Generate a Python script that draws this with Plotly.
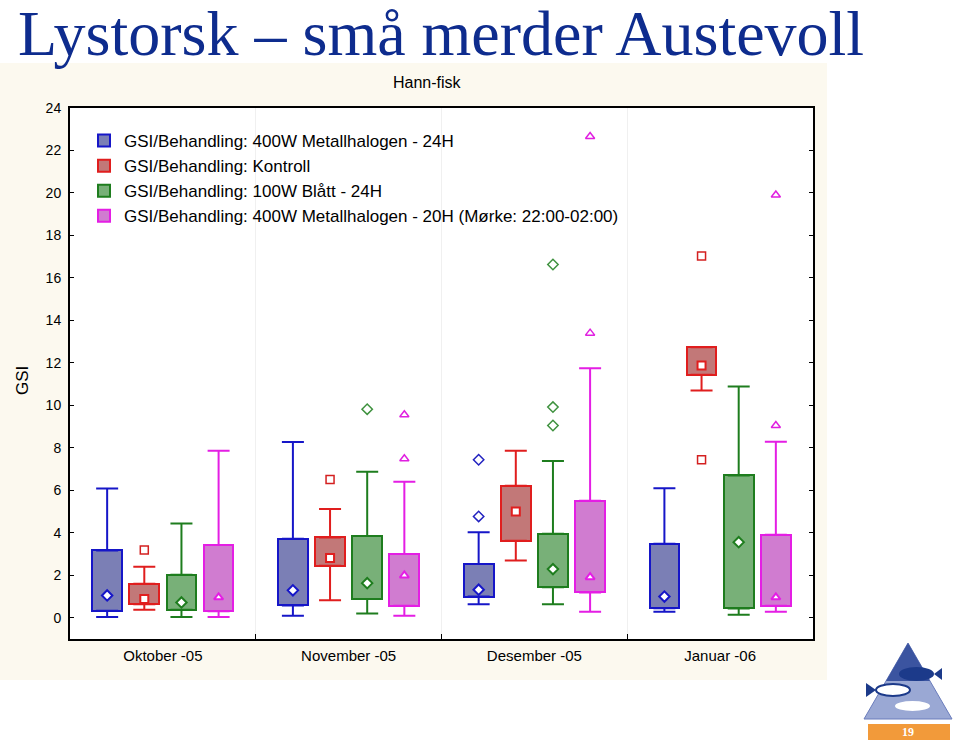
import plotly.graph_objects as go

# ---------------- data ----------------
months = ["Oktober -05", "November -05", "Desember -05", "Januar -06"]
series_names = [
    "GSI/Behandling: 400W Metallhalogen - 24H",
    "GSI/Behandling: Kontroll",
    "GSI/Behandling: 100W Blått - 24H",
    "GSI/Behandling: 400W Metallhalogen - 20H (Mørke: 22:00-02:00)",
]

blue_hi = [6.09, 8.27, 4.03, 6.10]
blue_q3 = [3.17, 3.72, 2.53, 3.48]
blue_med = [1.05, 1.29, 1.32, 1.00]
blue_q1 = [0.33, 0.58, 1.00, 0.45]
blue_lo = [0.03, 0.09, 0.64, 0.28]
blue_out_month = [2, 2]
blue_out_val = [7.44, 4.77]

red_hi = [2.40, 5.12, 7.86, 12.74]
red_q3 = [1.60, 3.78, 6.21, 12.74]
red_med = [0.88, 2.81, 5.00, 11.88]
red_q1 = [0.64, 2.45, 3.63, 11.44]
red_lo = [0.38, 0.82, 2.70, 10.70]
red_out_month = [0, 1, 3, 3]
red_out_val = [3.19, 6.51, 17.03, 7.44]

green_hi = [4.44, 6.87, 7.38, 10.89]
green_q3 = [2.02, 3.85, 3.95, 6.70]
green_med = [0.72, 1.63, 2.29, 3.56]
green_q1 = [0.38, 0.88, 1.44, 0.44]
green_lo = [0.03, 0.20, 0.64, 0.14]
green_out_month = [1, 2, 2, 2]
green_out_val = [9.82, 16.63, 9.92, 9.05]

pink_hi = [7.86, 6.40, 11.75, 8.29]
pink_q3 = [3.42, 3.00, 5.51, 3.91]
pink_med = [0.96, 1.99, 1.91, 0.96]
pink_q1 = [0.31, 0.56, 1.19, 0.56]
pink_lo = [0.03, 0.09, 0.28, 0.28]
pink_out_month = [1, 1, 2, 2, 3, 3]
pink_out_val = [9.56, 7.49, 22.66, 13.40, 19.90, 9.05]

# ---------------- styles ----------------
styles = [
    dict(line="#1616c8", fill="#7b7fb5", out="#2222c0", med_sym="diamond", out_sym="diamond-open"),
    dict(line="#e01e1e", fill="#c27878", out="#d42020", med_sym="square", out_sym="square-open"),
    dict(line="#1e7d1e", fill="#78b078", out="#3f923f", med_sym="diamond", out_sym="diamond-open"),
    dict(line="#e41ee4", fill="#d07cd0", out="#e020e0", med_sym="triangle-up", out_sym="triangle-up-open"),
]

data = [
    (blue_hi, blue_q3, blue_med, blue_q1, blue_lo, blue_out_month, blue_out_val),
    (red_hi, red_q3, red_med, red_q1, red_lo, red_out_month, red_out_val),
    (green_hi, green_q3, green_med, green_q1, green_lo, green_out_month, green_out_val),
    (pink_hi, pink_q3, pink_med, pink_q1, pink_lo, pink_out_month, pink_out_val),
]

SPACING = 0.2
BOXW = 0.16

fig = go.Figure()

for s, (hi, q3, med, q1, lo, om, ov) in enumerate(data):
    st = styles[s]
    off = (s - 1.5) * SPACING
    xs = [i + off for i in range(len(months))]
    # box
    fig.add_trace(go.Bar(
        x=xs, y=[a - b for a, b in zip(q3, q1)], base=q1, width=BOXW,
        marker=dict(color=st["fill"], line=dict(color=st["line"], width=2)),
        name=series_names[s], showlegend=True, hoverinfo="skip",
    ))
    # upper whisker
    fig.add_trace(go.Scatter(
        x=xs, y=q3, mode="markers",
        marker=dict(size=1, color="rgba(0,0,0,0)"),
        error_y=dict(type="data", symmetric=False,
                     array=[a - b for a, b in zip(hi, q3)],
                     arrayminus=[0] * len(q3),
                     color=st["line"], thickness=2, width=11),
        showlegend=False, hoverinfo="skip",
    ))
    # lower whisker
    fig.add_trace(go.Scatter(
        x=xs, y=q1, mode="markers",
        marker=dict(size=1, color="rgba(0,0,0,0)"),
        error_y=dict(type="data", symmetric=False,
                     array=[0] * len(q1),
                     arrayminus=[a - b for a, b in zip(q1, lo)],
                     color=st["line"], thickness=2, width=11),
        showlegend=False, hoverinfo="skip",
    ))
    # median markers
    fig.add_trace(go.Scatter(
        x=xs, y=med, mode="markers",
        marker=dict(symbol=st["med_sym"], size=8, color="white",
                    line=dict(color=st["line"], width=2)),
        showlegend=False, hoverinfo="skip",
    ))
    # outliers
    fig.add_trace(go.Scatter(
        x=[m + off for m in om], y=ov, mode="markers",
        marker=dict(symbol=st["out_sym"], size=8, color=st["out"],
                    line=dict(color=st["out"], width=1.5)),
        showlegend=False, hoverinfo="skip",
    ))

# ---------------- layout geometry ----------------
W, H = 960, 745
L, R, T, B = 70, 813, 108, 639


def px(x):
    return (x - L) / (R - L)


def py(y):
    return (B - y) / (B - T)


shapes = [
    dict(type="rect", xref="paper", yref="paper", x0=px(0), x1=px(827), y0=py(680), y1=py(63),
         fillcolor="#fcf9ef", line=dict(width=0), layer="below"),
    dict(type="rect", xref="paper", yref="paper", x0=0, x1=1, y0=0, y1=1,
         fillcolor="white", line=dict(width=0), layer="below"),
    # logo: triangle
    dict(type="path", xref="paper", yref="paper",
         path=f"M {px(908)},{py(643)} L {px(952)},{py(719)} L {px(864)},{py(719)} Z",
         fillcolor="#9aa8d4", line=dict(color="#6a7cbc", width=1), layer="above"),
    dict(type="path", xref="paper", yref="paper",
         path=f"M {px(908)},{py(643)} L {px(930)},{py(681)} L {px(886)},{py(681)} Z",
         fillcolor="#3b54a0", line=dict(width=0), layer="above"),
    # fish shapes
    dict(type="circle", xref="paper", yref="paper", x0=px(899), x1=px(934), y0=py(681), y1=py(667),
         fillcolor="#1c3a8a", line=dict(width=0)),
    dict(type="path", xref="paper", yref="paper",
         path=f"M {px(934)},{py(674)} L {px(942)},{py(668)} L {px(942)},{py(680)} Z",
         fillcolor="#1c3a8a", line=dict(width=0)),
    dict(type="circle", xref="paper", yref="paper", x0=px(876), x1=px(910), y0=py(696), y1=py(684),
         fillcolor="white", line=dict(color="#1c3a8a", width=2)),
    dict(type="path", xref="paper", yref="paper",
         path=f"M {px(876)},{py(690)} L {px(866)},{py(683)} L {px(866)},{py(697)} Z",
         fillcolor="#1c3a8a", line=dict(width=0)),
    dict(type="circle", xref="paper", yref="paper", x0=px(895), x1=px(930), y0=py(711), y1=py(701),
         fillcolor="white", line=dict(width=0)),
    # logo: orange bar
    dict(type="rect", xref="paper", yref="paper", x0=px(868), x1=px(950), y0=py(740), y1=py(724),
         fillcolor="#f29a3a", line=dict(width=0), layer="above"),
]

annotations = [
    dict(text="Lystorsk – små merder Austevoll", xref="paper", yref="paper",
         x=px(16), y=py(33), xanchor="left", yanchor="middle", showarrow=False,
         font=dict(family="Liberation Serif", size=64, color="#0e2c8e")),
    dict(text="Hann-fisk", xref="paper", yref="paper",
         x=px(427), y=py(83), xanchor="center", yanchor="middle", showarrow=False,
         font=dict(family="Liberation Sans", size=16, color="black")),
    dict(text="GSI", xref="paper", yref="paper", textangle=-90,
         x=px(22), y=py(381), xanchor="center", yanchor="middle", showarrow=False,
         font=dict(family="Liberation Sans", size=17, color="black")),
    dict(text="<b>19</b>", xref="paper", yref="paper",
         x=px(908), y=py(732), xanchor="center", yanchor="middle", showarrow=False,
         font=dict(family="Liberation Serif", size=12, color="white")),
]

fig.update_layout(
    width=W, height=H,
    margin=dict(l=L, r=W - R, t=T, b=H - B, pad=0),
    paper_bgcolor="white",
    plot_bgcolor="rgba(0,0,0,0)",
    barmode="overlay",
    bargap=0,
    font=dict(family="Liberation Sans", size=14, color="black"),
    shapes=shapes,
    annotations=annotations,
    showlegend=True,
    legend=dict(x=px(84), y=py(123), xanchor="left", yanchor="top",
                bgcolor="rgba(0,0,0,0)", font=dict(size=17, family="Liberation Sans"),
                traceorder="normal", itemclick=False, tracegroupgap=0),
    xaxis=dict(
        range=[-0.5, len(months) - 0.5],
        tickmode="array", tickvals=list(range(len(months))), ticktext=months,
        ticks="", showgrid=False, zeroline=False,
        showline=True, linecolor="black", linewidth=2, mirror=True,
        tickfont=dict(size=15),
        ticklabelstandoff=2,
        minor=dict(tickmode="array", tickvals=[i + 0.5 for i in range(len(months) - 1)],
                   ticks="inside", ticklen=5, tickcolor="black", tickwidth=1,
                   showgrid=True, gridcolor="#f0f0f0", gridwidth=1),
        fixedrange=True,
    ),
    yaxis=dict(
        range=[-1, 24], tickmode="array", tickvals=list(range(0, 25, 2)),
        ticks="inside", ticklen=4, tickcolor="black", tickwidth=1,
        showgrid=False, zeroline=False,
        showline=True, linecolor="black", linewidth=2, mirror="ticks",
        tickfont=dict(size=14), ticklabelstandoff=4,
        fixedrange=True,
    ),
)

fig.write_html("out.html")
